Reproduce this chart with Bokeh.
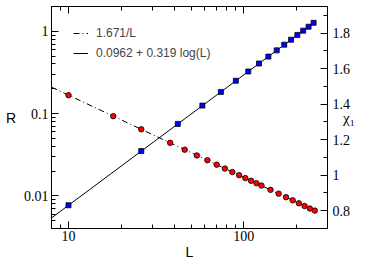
from bokeh.plotting import figure
from bokeh.models import (Range1d, LinearScale, LinearAxis, LogAxis, FixedTicker,
                          CustomJSTickFormatter, Legend, LegendItem)
from bokeh.embed import file_html
from bokeh.resources import INLINE

# ---- data ----
R_L = [10, 18, 26, 38, 46, 54, 62, 70, 78, 86, 94, 102, 110, 118, 126,
       142, 158, 174, 190, 206, 222, 238, 254]
R_vals = [0.167, 0.0928, 0.0643, 0.0440, 0.0363, 0.0309, 0.0270, 0.0239,
          0.0214, 0.0194, 0.0178, 0.0164, 0.0152, 0.0142, 0.0133, 0.0118,
          0.0106, 0.0096, 0.0088, 0.0081, 0.0075, 0.0070, 0.0066]
chi_L = [10, 26, 42, 58, 74, 90, 106, 122, 138, 154, 170, 186, 202, 218, 234, 250]
chi_vals = [0.831, 1.136, 1.289, 1.392, 1.469, 1.532, 1.584, 1.629, 1.668,
            1.703, 1.735, 1.763, 1.790, 1.814, 1.836, 1.858]
fit_L = [8, 256]
fit_R = [0.209, 0.00653]
fit_chi = [0.7595, 1.865]

x_ticks = [10, 100]
x_minor = [8, 9, 20, 30, 40, 50, 60, 70, 80, 90, 200]
R_ticks = [0.01, 0.1, 1]
R_minor = [0.004, 0.005, 0.006, 0.007, 0.008, 0.009,
           0.02, 0.03, 0.04, 0.05, 0.06, 0.07, 0.08, 0.09,
           0.2, 0.3, 0.4, 0.5, 0.6, 0.7, 0.8, 0.9, 2]
chi_ticks = [0.8, 1, 1.2, 1.4, 1.6, 1.8]
chi_minor = [0.7, 0.9, 1.1, 1.3, 1.5, 1.7, 1.9]

legend_labels = ["1.671/L", "0.0962 + 0.319 log(L)"]

# ---- figure ----
p = figure(width=374, height=262, x_axis_type="log", y_axis_type="log",
           x_range=Range1d(8, 300), y_range=Range1d(0.004, 2),
           output_backend="svg", toolbar_location=None,
           min_border_left=51, min_border_right=47,
           min_border_top=6, min_border_bottom=34)
p.extra_y_ranges = {"chi": Range1d(0.7, 1.95)}
p.extra_y_scales = {"chi": LinearScale()}
p.grid.visible = False
p.outline_line_color = "black"
p.outline_line_width = 1
p.background_fill_color = "white"
p.border_fill_color = "white"

fmt = CustomJSTickFormatter(code="return tick.toString();")
blank = CustomJSTickFormatter(code="return '';")


def style(ax, labels=True):
    ax.major_tick_in = 7
    ax.major_tick_out = 0
    ax.minor_tick_in = 4
    ax.minor_tick_out = 0
    ax.axis_line_color = "black"
    ax.major_tick_line_color = "black"
    ax.minor_tick_line_color = "black"
    ax.major_label_text_font = "Liberation Serif"
    ax.major_label_text_color = "black"
    ax.axis_label_text_font = "Liberation Sans"
    ax.axis_label_text_font_style = "normal"
    ax.axis_label_text_color = "black"
    ax.axis_label_text_font_size = "14px"
    if labels:
        ax.formatter = fmt
        ax.major_label_text_font_size = "14px"
        ax.major_label_standoff = 3
    else:
        ax.formatter = blank
        ax.major_label_text_font_size = "1px"
        ax.major_label_standoff = 0


xb = p.xaxis[0]
xb.ticker = FixedTicker(ticks=x_ticks, minor_ticks=x_minor)
style(xb)
xb.major_label_standoff = 2
xb.axis_label = "L"
xb.axis_label_standoff = 0

yl = p.yaxis[0]
yl.ticker = FixedTicker(ticks=R_ticks, minor_ticks=R_minor)
style(yl)
yl.axis_label = "R"
yl.axis_label_orientation = "horizontal"
yl.axis_label_standoff = 5

xt = LogAxis(ticker=FixedTicker(ticks=x_ticks, minor_ticks=x_minor))
style(xt, labels=False)
p.add_layout(xt, "above")

yr = LinearAxis(y_range_name="chi",
                ticker=FixedTicker(ticks=chi_ticks, minor_ticks=chi_minor))
style(yr)
yr.major_label_standoff = 5
yr.axis_label = "χ₁"
yr.axis_label_text_font = "Liberation Serif"
yr.axis_label_text_font_size = "15px"
yr.axis_label_orientation = "horizontal"
yr.axis_label_standoff = -10
p.add_layout(yr, "right")

# ---- glyphs ----
l1 = p.line(fit_L, fit_R, line_color="black", line_width=1, line_dash="6 3 1 3")
l2 = p.line(fit_L, fit_chi, line_color="black", line_width=1, y_range_name="chi")
p.scatter(R_L, R_vals, marker="circle", size=5.5, fill_color="#ff0000",
          line_color="black", line_width=0.8)
p.scatter(chi_L, chi_vals, marker="square", size=5, fill_color="#0000ff",
          line_color="black", line_width=0.8, y_range_name="chi")

legend = Legend(items=[LegendItem(label=legend_labels[0], renderers=[l1]),
                       LegendItem(label=legend_labels[1], renderers=[l2])],
                location=(22, 165), border_line_alpha=0, background_fill_alpha=0,
                padding=0, margin=0, spacing=0, glyph_width=15, glyph_height=20,
                label_height=20, label_standoff=8,
                label_text_font="Liberation Sans", label_text_font_size="12px")
p.add_layout(legend)

open("out.html", "w").write(file_html(p, INLINE))
